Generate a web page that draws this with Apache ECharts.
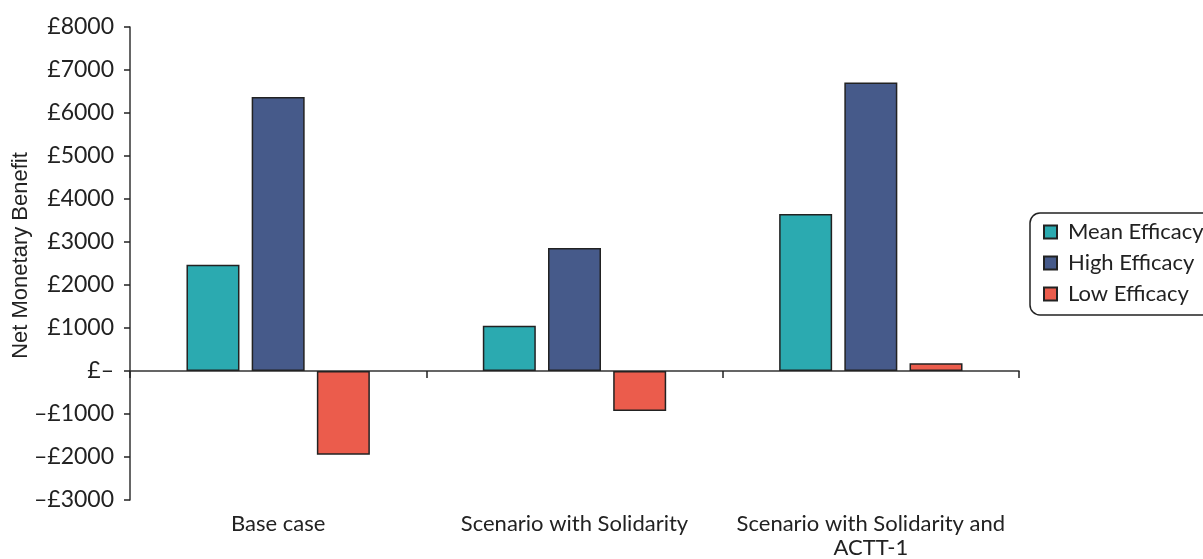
<!DOCTYPE html>
<html>
<head>
<meta charset="utf-8">
<script src="https://cdn.jsdelivr.net/npm/echarts@6/dist/echarts.min.js"></script>
<style>html,body{margin:0;padding:0;background:#fff;}#c{width:1203px;height:559px;}</style>
</head>
<body>
<div id="c"></div>
<script>
const categories = ['Base case', 'Scenario with Solidarity', 'Scenario with Solidarity and\nACTT-1'];
const meanEfficacy = [2470, 1050, 3650];
const highEfficacy = [6370, 2860, 6710];
const lowEfficacy = [-1950, -930, 180];
const seriesNames = ['Mean Efficacy', 'High Efficacy', 'Low Efficacy'];
const yTicks = { min: -3000, max: 8000, interval: 1000 };

const FONT = 'Lato, "Open Sans", sans-serif';
const chart = echarts.init(document.getElementById('c'));
const barStyle = (color) => ({ color: color, borderColor: '#222', borderWidth: 1.5 });
chart.setOption({
  animation: false,
  grid: { left: 130, right: 184, top: 27, bottom: 59, containLabel: false, outerBoundsMode: 'none' },
  legend: {
    orient: 'vertical',
    left: 1030, top: 213,
    padding: [6, 30, 8, 13],
    borderColor: '#222', borderWidth: 1.5, borderRadius: 10,
    itemWidth: 13, itemHeight: 13, itemGap: 5,
    icon: 'rect',
    textStyle: { fontFamily: FONT, fontSize: 22, color: '#222', lineHeight: 26, padding: [0, 0, 0, 6] },
    data: seriesNames
  },
  xAxis: [
    {
      type: 'category', data: categories, position: 'bottom',
      axisLine: { show: false, onZero: false }, axisTick: { show: false },
      axisLabel: { fontFamily: FONT, fontSize: 22, color: '#222', margin: 12, lineHeight: 24, interval: 0 }
    },
    {
      type: 'category', data: categories, position: 'top',
      axisLine: { show: true, onZero: true, lineStyle: { color: '#333', width: 1.5 } },
      axisTick: { show: true, inside: true, length: 7, lineStyle: { color: '#222', width: 1.5 } },
      axisLabel: { show: false }
    }
  ],
  yAxis: {
    type: 'value', min: yTicks.min, max: yTicks.max, interval: yTicks.interval,
    name: 'Net Monetary Benefit', nameLocation: 'middle', nameGap: 98, nameMoveOverlap: false,
    nameTextStyle: { fontFamily: '"Liberation Sans", Arial, sans-serif', fontSize: 22, color: '#222', padding: [0, 0, 0, 16] },
    splitLine: { show: false },
    axisLine: { show: true, lineStyle: { color: '#333', width: 1.5 } },
    axisTick: { show: true, length: 6, lineStyle: { color: '#222', width: 1.5 } },
    axisLabel: {
      fontFamily: FONT, fontSize: 23, color: '#222', margin: 16,
      formatter: (v) => v === 0 ? '£–' : (v < 0 ? '–£' + Math.abs(v) : '£' + v)
    }
  },
  series: [
    { name: seriesNames[0], type: 'bar', xAxisIndex: 1, data: meanEfficacy, barWidth: 53, barGap: '23%', itemStyle: barStyle('#2baab0') },
    { name: seriesNames[1], type: 'bar', xAxisIndex: 1, data: highEfficacy, barWidth: 53, barGap: '23%', itemStyle: barStyle('#465a8a') },
    { name: seriesNames[2], type: 'bar', xAxisIndex: 1, data: lowEfficacy, barWidth: 53, barGap: '23%', itemStyle: barStyle('#eb5c4c') }
  ]
});
</script>
</body>
</html>
